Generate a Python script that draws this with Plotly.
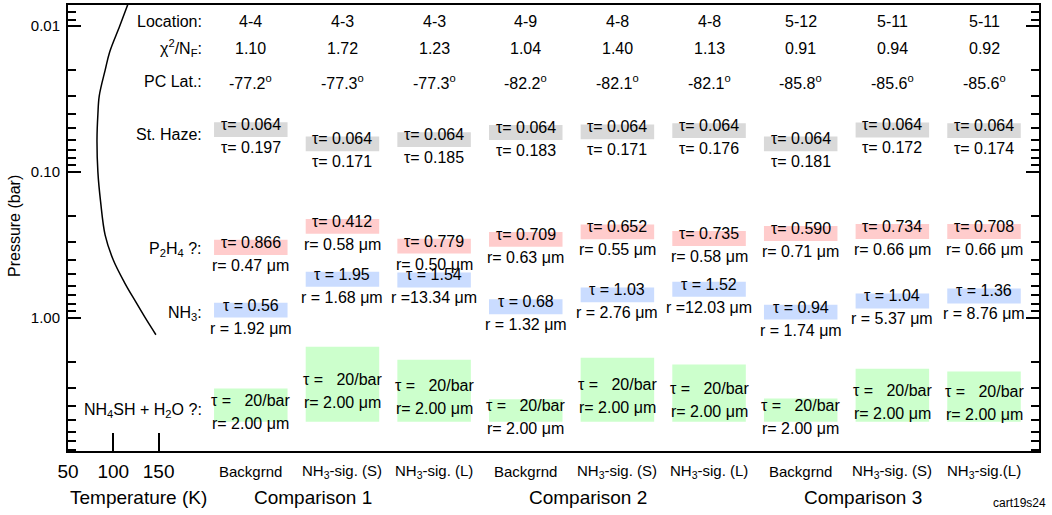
import numpy as np
import plotly.graph_objects as go

# ---------------- data ----------------
locations = ["4-4", "4-3", "4-3", "4-9", "4-8", "4-8", "5-12", "5-11", "5-11"]
chi2_nf = [1.10, 1.72, 1.23, 1.04, 1.40, 1.13, 0.91, 0.94, 0.92]
pc_lat = [-77.2, -77.3, -77.3, -82.2, -82.1, -82.1, -85.8, -85.6, -85.6]
models = ["Backgrnd", "NH<sub>3</sub>-sig. (S)", "NH<sub>3</sub>-sig. (L)",
          "Backgrnd", "NH<sub>3</sub>-sig. (S)", "NH<sub>3</sub>-sig. (L)",
          "Backgrnd", "NH<sub>3</sub>-sig. (S)", "NH<sub>3</sub>-sig.(L)"]
comparisons = ["Comparison 1", "Comparison 2", "Comparison 3"]

# temperature profile (K vs bar)
temp_K = [116, 107, 96, 91, 84.5, 83, 82, 83, 86, 91, 100, 113, 124, 135, 147]
temp_p = [0.0071, 0.010, 0.015, 0.020, 0.030, 0.040, 0.060, 0.10, 0.16,
          0.27, 0.40, 0.58, 0.76, 0.99, 1.30]

# stratospheric haze layer
haze_top = [0.0455, 0.0569, 0.0532, 0.0475, 0.0471, 0.0462, 0.0569, 0.0457, 0.0462]
haze_bot = [0.0575, 0.0720, 0.0673, 0.0601, 0.0596, 0.0584, 0.0720, 0.0578, 0.0584]
haze_tau1 = [0.064, 0.064, 0.064, 0.064, 0.064, 0.064, 0.064, 0.064, 0.064]
haze_tau2 = [0.197, 0.171, 0.185, 0.183, 0.171, 0.176, 0.181, 0.172, 0.174]

# P2H4 layer
p2h4_top = [0.291, 0.209, 0.286, 0.257, 0.228, 0.253, 0.234, 0.227, 0.227]
p2h4_bot = [0.369, 0.264, 0.361, 0.325, 0.288, 0.320, 0.296, 0.287, 0.287]
p2h4_tau = [0.866, 0.412, 0.779, 0.709, 0.652, 0.735, 0.590, 0.734, 0.708]
p2h4_r = [0.47, 0.58, 0.50, 0.63, 0.55, 0.58, 0.71, 0.66, 0.66]

# NH3 layer
nh3_top = [0.784, 0.482, 0.487, 0.744, 0.617, 0.564, 0.809, 0.677, 0.626]
nh3_bot = [0.992, 0.610, 0.617, 0.942, 0.780, 0.713, 1.024, 0.858, 0.793]
nh3_tau = [0.56, 1.95, 1.54, 0.68, 1.03, 1.52, 0.94, 1.04, 1.36]
nh3_r = [1.92, 1.68, 13.34, 1.32, 2.76, 12.03, 1.74, 5.37, 8.76]

# NH4SH + H2O layer
nh4sh_top = [3.04, 1.57, 1.93, 3.60, 1.87, 2.08, 3.56, 2.22, 2.32]
nh4sh_bot = [5.14, 5.14, 5.14, 5.14, 5.14, 5.14, 5.14, 5.14, 5.14]
nh4sh_tau = [20, 20, 20, 20, 20, 20, 20, 20, 20]
nh4sh_r = [2.00, 2.00, 2.00, 2.00, 2.00, 2.00, 2.00, 2.00, 2.00]

# ---------------- styling ----------------
FONT = "Liberation Sans, Arial, sans-serif"
NB = "\u00a0"
C_HAZE = "#d9d9d9"
C_P2H4 = "#ffcccc"
C_NH3 = "#cadcff"
C_NH4SH = "#ccffcc"
HALF_W = 0.401


def nb(s):
    return s.replace(" ", NB)


fig = go.Figure()

fig.add_trace(go.Scatter(x=temp_K, y=temp_p, mode="lines",
                         line=dict(color="black", width=1.5, shape="spline"),
                         xaxis="x", yaxis="y", hoverinfo="skip"))
# anchor trace for the column axis
fig.add_trace(go.Scatter(x=list(range(len(locations))), y=nh3_top, mode="markers",
                         marker=dict(opacity=0), xaxis="x2", yaxis="y",
                         hoverinfo="skip"))

shapes = []
anns = []


def add_layer(tops, bots, color, line1, line2):
    for i in range(len(tops)):
        shapes.append(dict(type="rect", xref="x2", yref="y",
                           x0=i - HALF_W, x1=i + HALF_W, y0=tops[i], y1=bots[i],
                           fillcolor=color, line=dict(width=0), layer="below"))
        yc = (np.log10(tops[i]) + np.log10(bots[i])) / 2
        anns.append(dict(x=i, y=yc, xref="x2", yref="y", text=nb(line1[i]),
                         showarrow=False, xanchor="center", yanchor="middle",
                         yshift=5, font=dict(size=16)))
        anns.append(dict(x=i, y=yc, xref="x2", yref="y", text=nb(line2[i]),
                         showarrow=False, xanchor="center", yanchor="middle",
                         yshift=-18, font=dict(size=16)))


add_layer(haze_top, haze_bot, C_HAZE,
          [f"\u03c4={t:6.3f}" for t in haze_tau1],
          [f"\u03c4={t:6.3f}" for t in haze_tau2])
add_layer(p2h4_top, p2h4_bot, C_P2H4,
          [f"\u03c4={t:6.3f}" for t in p2h4_tau],
          [f"r={r:5.2f} \u03bcm" for r in p2h4_r])
add_layer(nh3_top, nh3_bot, C_NH3,
          [f"\u03c4 ={t:5.2f}" for t in nh3_tau],
          [f"r ={r:5.2f} \u03bcm" for r in nh3_r])
add_layer(nh4sh_top, nh4sh_bot, C_NH4SH,
          [f"\u03c4 ={t:5.0f}/bar" for t in nh4sh_tau],
          [f"r={r:5.2f} \u03bcm" for r in nh4sh_r])

LABEL_X = -0.51


def ypaper(px):
    return 1 - (px - 3) / 448.0


# header rows
header_rows = [
    ("Location:", locations, 19.5),
    ("\u03c7<sup>2</sup>/N<sub>F</sub>:", [f"{v:.2f}" for v in chi2_nf], 46.5),
    ("PC Lat.:", [f"{v:.1f}<sup>o</sup>" for v in pc_lat], 80),
]
for label, vals, py in header_rows:
    anns.append(dict(x=LABEL_X, y=ypaper(py), xref="x2", yref="paper", text=label,
                     showarrow=False, xanchor="right", yanchor="middle",
                     font=dict(size=16)))
    for i, v in enumerate(vals):
        anns.append(dict(x=i, y=ypaper(py), xref="x2", yref="paper", text=v,
                         showarrow=False, xanchor="center", yanchor="middle",
                         font=dict(size=16)))

# layer row labels (at their pressure levels)
row_labels = [("St. Haze:", 0.0554), ("P<sub>2</sub>H<sub>4</sub> ?:", 0.337),
              ("NH<sub>3</sub>:", 0.936),
              ("NH<sub>4</sub>SH + H<sub>2</sub>O ?:", 4.28)]
for label, p in row_labels:
    anns.append(dict(x=LABEL_X, y=np.log10(p), xref="x2", yref="y", text=nb(label),
                     showarrow=False, xanchor="right", yanchor="middle",
                     font=dict(size=16)))

# bottom model labels
for i, m in enumerate(models):
    anns.append(dict(x=i, y=ypaper(471.7), xref="x2", yref="paper", text=nb(m),
                     showarrow=False, xanchor="center", yanchor="middle",
                     font=dict(size=15)))
for k, c in enumerate(comparisons):
    anns.append(dict(x=3 * k + 0.68, y=ypaper(498), xref="x2", yref="paper", text=c,
                     showarrow=False, xanchor="center", yanchor="middle",
                     font=dict(size=19)))

anns.append(dict(x=(138.3 - 68) / 971, y=ypaper(498), xref="paper", yref="paper",
                 text="Temperature (K)", showarrow=False, xanchor="center",
                 yanchor="middle", font=dict(size=19)))
anns.append(dict(x=(14 - 68) / 971, y=ypaper(225), xref="paper", yref="paper",
                 text="Pressure (bar)", showarrow=False, xanchor="center",
                 yanchor="middle", textangle=-90, font=dict(size=16)))
anns.append(dict(x=(1048 - 68) / 971, y=ypaper(503), xref="paper", yref="paper",
                 text="cart19s24", showarrow=False, xanchor="right",
                 yanchor="middle", font=dict(size=12)))

minor_p = [m * 10.0 ** e for e in (-3, -2, -1, 0) for m in range(2, 10)]
minor_p = [p for p in minor_p if 0.0072 < p < 8.1]

fig.update_layout(
    width=1052, height=515,
    margin=dict(l=68, r=13, t=3, b=64),
    plot_bgcolor="white", paper_bgcolor="white",
    showlegend=False,
    font=dict(family=FONT, color="black"),
    shapes=shapes, annotations=anns,
    xaxis=dict(range=[50, 1121.7], tickvals=[50, 100, 150],
               ticks="inside", ticklen=18, tickwidth=1.5, tickcolor="black",
               showline=True, linewidth=2, linecolor="black", mirror=True,
               showgrid=False, zeroline=False, tickfont=dict(size=19),
               ticklabelstandoff=2),
    xaxis2=dict(overlaying="x", range=[-1.9945, 8.600], visible=False),
    yaxis=dict(type="log", range=[0.9106, -2.1453],
               tickvals=[0.01, 0.1, 1.0], ticktext=["0.01", "0.10", "1.00"],
               ticks="inside", ticklen=13, tickwidth=1.5, tickcolor="black",
               minor=dict(tickvals=minor_p, ticks="inside", ticklen=8,
                          tickwidth=1.5, tickcolor="black", showgrid=False),
               showline=True, linewidth=2, linecolor="black", mirror="ticks",
               showgrid=False, zeroline=False, tickfont=dict(size=15),
               ticklabelstandoff=3),
)

fig.write_html("out.html")
